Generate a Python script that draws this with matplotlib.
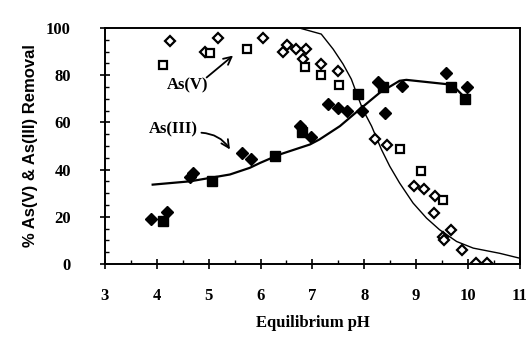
import matplotlib
matplotlib.use("Agg")
import matplotlib.pyplot as plt
from matplotlib.ticker import MultipleLocator

# As(V) open diamonds
as5_d_x = [4.25, 4.93, 5.17, 6.04, 6.43, 6.51, 6.69, 6.82, 6.88, 7.17, 7.49, 8.21, 8.43,
           8.96, 9.15, 9.36, 9.35, 9.51, 9.53, 9.68, 9.89, 10.15, 10.37]
as5_d_y = [94.6, 90.0, 95.7, 95.9, 90.0, 92.8, 91.0, 87.0, 91.0, 84.7, 81.8, 52.8, 50.2,
           33.2, 31.8, 28.7, 21.6, 11.6, 10.2, 14.2, 5.7, 0.3, 0.5]
# As(V) open squares
as5_s_x = [4.11, 5.02, 5.73, 6.85, 7.16, 7.51, 8.68, 9.09, 9.52]
as5_s_y = [84.5, 89.5, 91.0, 83.4, 80.0, 75.7, 48.8, 39.3, 27.0]

# As(III) filled diamonds
as3_d_x = [3.88, 4.19, 4.64, 4.70, 5.65, 5.81, 6.76, 6.98, 7.30, 7.50, 7.66, 7.95,
           8.27, 8.40, 8.72, 9.57, 9.97]
as3_d_y = [19.0, 21.8, 36.9, 38.6, 46.8, 44.3, 58.4, 53.9, 67.7, 66.2, 64.8, 64.8,
           76.9, 64.1, 75.5, 80.9, 74.8]
# As(III) filled squares
as3_s_x = [4.11, 5.07, 6.28, 6.80, 7.88, 8.36, 9.68, 9.94]
as3_s_y = [18.0, 35.0, 45.7, 56.0, 71.9, 74.8, 74.8, 69.8]

# Model curves
fit5_x = [6.0, 6.76, 7.17, 7.40, 7.59, 7.75, 7.87, 7.97, 8.14, 8.33, 8.49, 8.68, 8.94,
          9.20, 9.45, 9.78, 10.10, 10.61, 11.0]
fit5_y = [100.0, 99.9, 97.4, 91.0, 84.7, 78.3, 71.2, 65.5, 58.4, 48.5, 41.4, 34.3, 25.8,
          19.4, 14.5, 9.5, 6.7, 4.5, 2.4]
fit3_x = [3.92, 4.64, 5.41, 5.79, 5.99, 6.37, 6.95, 7.14, 7.53, 7.91, 8.30, 8.68, 8.81,
          9.58, 9.78, 9.97]
fit3_y = [33.6, 35.0, 37.9, 40.7, 42.8, 46.4, 50.6, 52.8, 58.4, 65.5, 72.6, 77.6, 78.0,
          76.2, 74.0, 69.8]

xticks = [3, 4, 5, 6, 7, 8, 9, 10, 11]
yticks = [0, 20, 40, 60, 80, 100]

plt.rcParams['font.family'] = ['Liberation Serif', 'DejaVu Serif']
plt.rcParams['font.weight'] = 'bold'

fig = plt.figure(figsize=(5.3, 3.45), dpi=100)
ax = fig.add_axes([0.198, 0.235, 0.783, 0.684])

ax.plot(fit5_x, fit5_y, color='black', lw=1.0)
ax.plot(fit3_x, fit3_y, color='black', lw=1.6)

ax.plot(as5_d_x, as5_d_y, linestyle='none', marker='D', ms=5, mfc='white', mec='black', mew=1.6)
ax.plot(as5_s_x, as5_s_y, linestyle='none', marker='s', ms=6, mfc='white', mec='black', mew=1.6)
ax.plot(as3_d_x, as3_d_y, linestyle='none', marker='D', ms=6, mfc='black', mec='black')
ax.plot(as3_s_x, as3_s_y, linestyle='none', marker='s', ms=6.5, mfc='black', mec='black')

ax.set_xlim(3, 11)
ax.set_ylim(0, 100)
ax.set_xticks(xticks)
ax.set_yticks(yticks)
ax.set_xticklabels([str(t) for t in xticks])
ax.set_yticklabels([str(t) for t in yticks])
ax.xaxis.set_minor_locator(MultipleLocator(0.5))
ax.yaxis.set_minor_locator(MultipleLocator(5))
ax.tick_params(which='major', direction='inout', length=7, width=1.2, labelsize=12)
ax.tick_params(axis='x', which='major', pad=14)
ax.tick_params(axis='y', which='major', pad=21)
ax.tick_params(which='minor', direction='in', length=3, width=1.0)
for lab in ax.get_xticklabels() + ax.get_yticklabels():
    lab.set_fontweight('bold')
for s in ax.spines.values():
    s.set_linewidth(1.4)

ax.set_xlabel('Equilibrium pH', fontsize=12, fontweight='bold', labelpad=8)
ax.set_ylabel('% As(V) & As(III) Removal', fontsize=12, fontweight='bold', labelpad=6,
              family=['Liberation Sans', 'DejaVu Sans'])

ax.text(4.59, 75.5, 'As(V)', fontsize=12, fontweight='bold', ha='center', va='center')
ax.text(4.31, 57.0, 'As(III)', fontsize=12, fontweight='bold', ha='center', va='center')
ax.annotate('', xy=(5.47, 88.3), xytext=(4.96, 79.0),
            arrowprops=dict(arrowstyle='->', color='black', lw=1.3, shrinkA=0, shrinkB=0,
                            mutation_scale=14))
ax.annotate('', xy=(5.41, 48.5), xytext=(4.86, 55.6),
            arrowprops=dict(arrowstyle='->', color='black', lw=1.3, shrinkA=0, shrinkB=0,
                            connectionstyle='arc3,rad=-0.25', mutation_scale=14))

fig.savefig('out.png', dpi=100)
